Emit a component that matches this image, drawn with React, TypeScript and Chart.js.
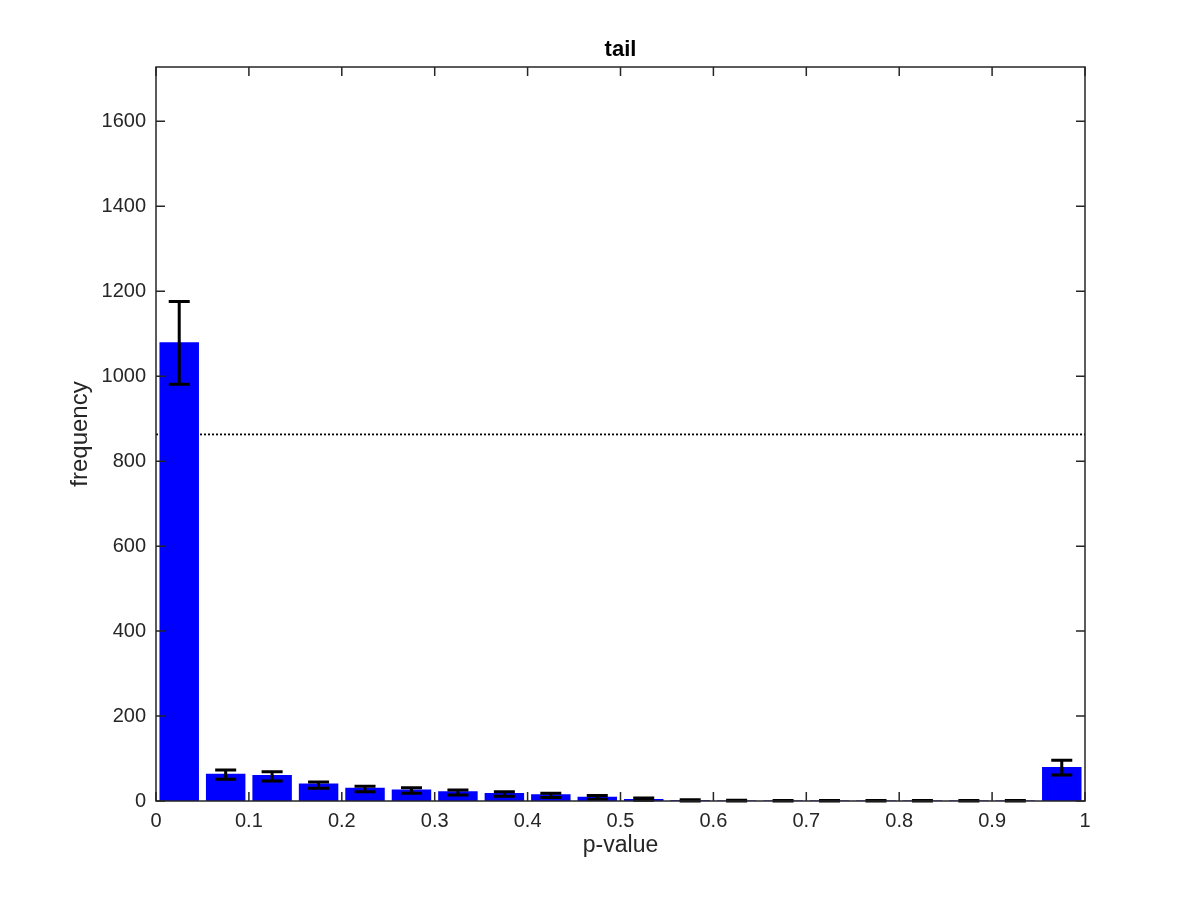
import React, { useEffect, useRef } from "react";
import { Chart, registerables } from "chart.js";

Chart.register(...registerables);

// ---- data ----
const binCenters = [0.025, 0.075, 0.125, 0.175, 0.225, 0.275, 0.325, 0.375, 0.425, 0.475, 0.525, 0.575, 0.625, 0.675, 0.725, 0.775, 0.825, 0.875, 0.925, 0.975];
const counts = [1080, 64, 61, 41, 31, 27, 23, 19, 16, 10, 5, 2, 1, 1, 1, 1, 1, 1, 1, 80];
const errUpper = [1176, 73, 69, 45, 35, 31, 26, 22, 18.5, 13, 7, 3, 2, 1, 1, 1, 1, 1, 1, 96];
const errLower = [981, 51, 47, 30, 22, 18, 14, 11, 8, 4, 2, 0, 0, 0, 0, 0, 0, 0, 0, 61];
const referenceLevel = 863;
const xTickValues = [0, 0.1, 0.2, 0.3, 0.4, 0.5, 0.6, 0.7, 0.8, 0.9, 1];
const xTickLabels = ["0", "0.1", "0.2", "0.3", "0.4", "0.5", "0.6", "0.7", "0.8", "0.9", "1"];
const yTickValues = [0, 200, 400, 600, 800, 1000, 1200, 1400, 1600];
const yMax = 1728;
const titleText = "tail";
const xTitle = "p-value";
const yTitle = "frequency";

const AXIS_COLOR = "#262626";
const FONT = "Helvetica, Arial, 'Liberation Sans', sans-serif";

const framePlugin = {
  id: "matlabFrame",
  beforeDatasetsDraw(chart: any) {
    const { ctx, chartArea, scales } = chart;
    const y = scales.y.getPixelForValue(referenceLevel);
    ctx.save();
    ctx.strokeStyle = "#000";
    ctx.lineWidth = 1.8;
    ctx.setLineDash([2, 2]);
    ctx.beginPath();
    ctx.moveTo(chartArea.left, y);
    ctx.lineTo(chartArea.right, y);
    ctx.stroke();
    ctx.restore();
  },
  afterDatasetsDraw(chart: any) {
    const { ctx, chartArea, scales } = chart;
    const xs = scales.x;
    const ys = scales.y;
    ctx.save();
    // error bars
    ctx.strokeStyle = "#000";
    ctx.lineWidth = 3;
    ctx.lineCap = "butt";
    const cap = 10.5;
    for (let i = 0; i < binCenters.length; i++) {
      const x = xs.getPixelForValue(binCenters[i]);
      const yt = ys.getPixelForValue(errUpper[i]);
      const yb = ys.getPixelForValue(errLower[i]);
      ctx.beginPath();
      ctx.moveTo(x, yt);
      ctx.lineTo(x, yb);
      ctx.moveTo(x - cap, yt);
      ctx.lineTo(x + cap, yt);
      ctx.moveTo(x - cap, yb);
      ctx.lineTo(x + cap, yb);
      ctx.stroke();
    }
    // box and inward ticks
    ctx.strokeStyle = AXIS_COLOR;
    ctx.lineWidth = 1.5;
    ctx.strokeRect(chartArea.left, chartArea.top, chartArea.right - chartArea.left, chartArea.bottom - chartArea.top);
    const tl = 9;
    ctx.beginPath();
    for (const v of xTickValues) {
      const x = xs.getPixelForValue(v);
      ctx.moveTo(x, chartArea.bottom);
      ctx.lineTo(x, chartArea.bottom - tl);
      ctx.moveTo(x, chartArea.top);
      ctx.lineTo(x, chartArea.top + tl);
    }
    for (const v of yTickValues) {
      const y = ys.getPixelForValue(v);
      ctx.moveTo(chartArea.left, y);
      ctx.lineTo(chartArea.left + tl, y);
      ctx.moveTo(chartArea.right, y);
      ctx.lineTo(chartArea.right - tl, y);
    }
    ctx.stroke();
    // title
    ctx.fillStyle = "#000";
    ctx.font = "bold 22px " + FONT;
    ctx.textAlign = "center";
    ctx.textBaseline = "alphabetic";
    ctx.fillText(titleText, (chartArea.left + chartArea.right) / 2, 56);
    ctx.restore();
  },
};

export default function App() {
  const canvasRef = useRef<HTMLCanvasElement | null>(null);

  useEffect(() => {
    const canvas = canvasRef.current;
    if (!canvas) return;
    const chart = new Chart(canvas, {
      type: "bar",
      data: {
        datasets: [
          {
            data: binCenters.map((x, i) => ({ x, y: counts[i] })),
            backgroundColor: "#0000ff",
            borderColor: "#0000ff",
            borderWidth: 0,
            barPercentage: 0.85,
            categoryPercentage: 1,
          },
        ],
      },
      options: {
        responsive: false,
        animation: false,
        events: [],
        layout: { padding: { top: 67, right: 115, left: 0, bottom: 0 } },
        plugins: {
          legend: { display: false },
          tooltip: { enabled: false },
          title: { display: false },
        },
        scales: {
          x: {
            type: "linear",
            min: 0,
            max: 1,
            offset: false,
            grid: { display: false },
            border: { display: false },
            afterBuildTicks: (scale: any) => {
              scale.ticks = xTickValues.map((v) => ({ value: v }));
            },
            afterFit: (scale: any) => {
              scale.height = 99;
            },
            ticks: {
              autoSkip: false,
              maxRotation: 0,
              padding: 0,
              color: AXIS_COLOR,
              font: { family: FONT, size: 20 },
              callback: (_v: any, i: number) => xTickLabels[i],
            },
            title: {
              display: true,
              text: xTitle,
              color: AXIS_COLOR,
              font: { family: FONT, size: 23 },
              padding: { top: 0, bottom: 41 },
            },
          },
          y: {
            type: "linear",
            min: 0,
            max: yMax,
            grid: { display: false },
            border: { display: false },
            afterBuildTicks: (scale: any) => {
              scale.ticks = yTickValues.map((v) => ({ value: v }));
            },
            afterFit: (scale: any) => {
              scale.width = 156;
            },
            ticks: {
              autoSkip: false,
              padding: 2,
              color: AXIS_COLOR,
              font: { family: FONT, size: 20 },
              callback: (v: any) => String(v),
            },
            title: {
              display: true,
              text: yTitle,
              color: AXIS_COLOR,
              font: { family: FONT, size: 24 },
              padding: { top: 66, bottom: 0 },
            },
          },
        },
      },
      plugins: [framePlugin],
    } as any);
    return () => chart.destroy();
  }, []);

  return (
    <div style={{ position: "absolute", left: 0, top: 0, width: 1200, height: 900, background: "#fff" }}>
      <canvas ref={canvasRef} width={1200} height={900} />
    </div>
  );
}
